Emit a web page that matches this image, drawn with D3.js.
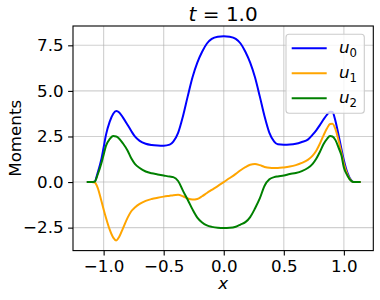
<!DOCTYPE html>
<html>
<head>
<meta charset="utf-8">
<script src="https://cdn.jsdelivr.net/npm/d3@7"></script>
<style>
  html, body { margin: 0; padding: 0; background: #fff; }
  svg { display: block; }
  text { font-family: "DejaVu Sans", sans-serif; fill: #000; }
</style>
</head>
<body>
<svg id="chart" width="380" height="300"></svg>
<script>
const xs = [-1.14, -1.10, -1.075, -1.05, -1.02, -1.0, -0.98, -0.95, -0.92, -0.895,
  -0.87, -0.84, -0.80, -0.77, -0.74, -0.70, -0.65, -0.60, -0.55, -0.50,
  -0.45, -0.42, -0.38, -0.34, -0.30, -0.26, -0.22, -0.18, -0.14, -0.10,
  -0.05, 0,
  0.05, 0.10, 0.14, 0.18, 0.22, 0.26, 0.30, 0.34, 0.38, 0.42,
  0.45, 0.50, 0.55, 0.60, 0.65, 0.70, 0.74, 0.77, 0.80, 0.83,
  0.86, 0.885, 0.905, 0.93, 0.955, 0.98, 1.0, 1.03, 1.06, 1.08,
  1.10, 1.14];

const u0 = [0, 0, 0.02, 0.5, 1.22, 1.9, 2.6, 3.3, 3.75, 3.9,
  3.82, 3.55, 3.13, 2.8, 2.5, 2.26, 2.1, 2.03, 2.0, 1.99,
  2.05, 2.22, 2.7, 3.6, 4.7, 5.75, 6.55, 7.15, 7.6, 7.85,
  7.97, 8.0,
  7.97, 7.85, 7.6, 7.15, 6.55, 5.75, 4.7, 3.6, 2.7, 2.22,
  2.07, 2.05, 2.06, 2.1, 2.2, 2.33, 2.6, 2.84, 3.12, 3.43,
  3.7, 3.86, 3.84, 3.35, 2.6, 1.8, 1.2, 0.5, 0.1, 0,
  0, 0];

const u1 = [0, 0, -0.02, -0.3, -1.0, -1.5, -1.97, -2.6, -3.05, -3.2,
  -3.0, -2.55, -1.95, -1.6, -1.4, -1.2, -1.03, -0.93, -0.86, -0.8,
  -0.75, -0.72, -0.7, -0.78, -0.9, -0.96, -0.93, -0.78, -0.6, -0.43,
  -0.22, 0,
  0.22, 0.45, 0.65, 0.82, 0.95, 0.99, 0.93, 0.83, 0.78, 0.77,
  0.77, 0.8, 0.85, 0.93, 1.05, 1.22, 1.45, 1.72, 2.1, 2.55,
  2.95, 3.18, 3.2, 2.9, 2.3, 1.6, 1.0, 0.4, 0.08, 0,
  0, 0];

const u2 = [0, 0, 0.02, 0.4, 1.0, 1.5, 2.0, 2.35, 2.52, 2.5,
  2.38, 2.13, 1.72, 1.3, 1.0, 0.77, 0.58, 0.48, 0.42, 0.36,
  0.3, 0.27, 0.06, -0.47, -0.97, -1.5, -1.95, -2.22, -2.38, -2.46,
  -2.51, -2.52,
  -2.51, -2.45, -2.33, -2.2, -1.92, -1.45, -0.9, -0.2, 0.15, 0.27,
  0.31, 0.36, 0.44, 0.5, 0.6, 0.77, 1.0, 1.28, 1.65, 2.07,
  2.37, 2.52, 2.5, 2.3, 1.9, 1.45, 0.8, 0.35, 0.07, 0,
  0, 0];

const seriesNames = ["0", "1", "2"];
const seriesColors = ["blue", "orange", "green"];
const xTicks = [-1.0, -0.5, 0.0, 0.5, 1.0];
const yTicks = [-2.5, 0.0, 2.5, 5.0, 7.5];
const titleVar = "t";
const titleVal = "1.0";
const xLabel = "x";
const yLabel = "Moments";

const svg = d3.select("#chart");
const L = 73, R = 373.3, T = 26, B = 250.6;

const x = d3.scaleLinear().domain([-1.255, 1.245]).range([L, R]);
const y = d3.scaleLinear().domain([-3.76, 8.56]).range([B, T]);

const fmt = v => v.toFixed(1).replace("-", "\u2212");

// grid
const grid = svg.append("g");
grid.selectAll("line.gx").data(xTicks).enter().append("line")
  .attr("x1", d => x(d)).attr("x2", d => x(d)).attr("y1", T).attr("y2", B)
  .attr("stroke", "#b0b0b0").attr("stroke-opacity", 0.6).attr("stroke-width", 1.1);
grid.selectAll("line.gy").data(yTicks).enter().append("line")
  .attr("y1", d => y(d)).attr("y2", d => y(d)).attr("x1", L).attr("x2", R)
  .attr("stroke", "#b0b0b0").attr("stroke-opacity", 0.6).attr("stroke-width", 1.1);

// lines
const allSeries = [u0, u1, u2];
const line = d3.line()
  .x((d, i) => x(xs[i]))
  .y(d => y(d))
  .curve(d3.curveMonotoneX);
const clipId = "plotclip";
svg.append("clipPath").attr("id", clipId).append("rect")
  .attr("x", L).attr("y", T).attr("width", R - L).attr("height", B - T);
const lines = svg.append("g").attr("clip-path", `url(#${clipId})`);
allSeries.forEach((s, k) => {
  lines.append("path").datum(s)
    .attr("d", line)
    .attr("fill", "none")
    .attr("stroke", seriesColors[k])
    .attr("stroke-width", 2)
    .attr("stroke-linejoin", "round");
});

// axes
const xAxis = d3.axisBottom(x).tickValues(xTicks).tickFormat(fmt).tickSize(4.9).tickPadding(4.5);
const yAxis = d3.axisLeft(y).tickValues(yTicks).tickFormat(fmt).tickSize(4.9).tickPadding(4.5);
const gx = svg.append("g").attr("transform", `translate(0,${B})`).call(xAxis);
const gy = svg.append("g").attr("transform", `translate(${L},0)`).call(yAxis);
[gx, gy].forEach(g => {
  g.select(".domain").remove();
  g.selectAll(".tick line").attr("stroke", "#000").attr("stroke-width", 1.1);
  g.selectAll(".tick text").attr("font-family", "DejaVu Sans").attr("font-size", 16.7).attr("fill", "#000");
});

// spines
svg.append("rect").attr("x", L).attr("y", T).attr("width", R - L).attr("height", B - T)
  .attr("fill", "none").attr("stroke", "#000").attr("stroke-width", 1.1);

// title
const title = svg.append("text").attr("x", (L + R) / 2).attr("y", 20.5)
  .attr("text-anchor", "middle").attr("font-size", 20);
title.append("tspan").attr("font-style", "italic").text(titleVar);
title.append("tspan").text(" = " + titleVal);

// x label
svg.append("text").attr("x", (L + R) / 2).attr("y", 288.5)
  .attr("text-anchor", "middle").attr("font-size", 16.7).attr("font-style", "italic").text(xLabel);

// y label
svg.append("text").attr("transform", `translate(20.5,${(T + B) / 2}) rotate(-90)`)
  .attr("text-anchor", "middle").attr("font-size", 16.7).text(yLabel);

// legend
const lg = svg.append("g");
lg.append("rect").attr("x", 286).attr("y", 34.3).attr("width", 78.3).attr("height", 79)
  .attr("rx", 3).attr("fill", "#fff").attr("fill-opacity", 0.8)
  .attr("stroke", "#cccccc").attr("stroke-width", 1.1);
seriesNames.forEach((n, k) => {
  const yy = 48.3 + k * 25;
  lg.append("line").attr("x1", 291.7).attr("x2", 326.7).attr("y1", yy).attr("y2", yy)
    .attr("stroke", seriesColors[k]).attr("stroke-width", 2);
  const t = lg.append("text").attr("x", 339).attr("y", yy + 5).attr("font-size", 16.7);
  t.append("tspan").attr("font-style", "italic").text("u");
  t.append("tspan").attr("font-size", 11.7).attr("dy", 3.5).text(n);
});
</script>
</body>
</html>
